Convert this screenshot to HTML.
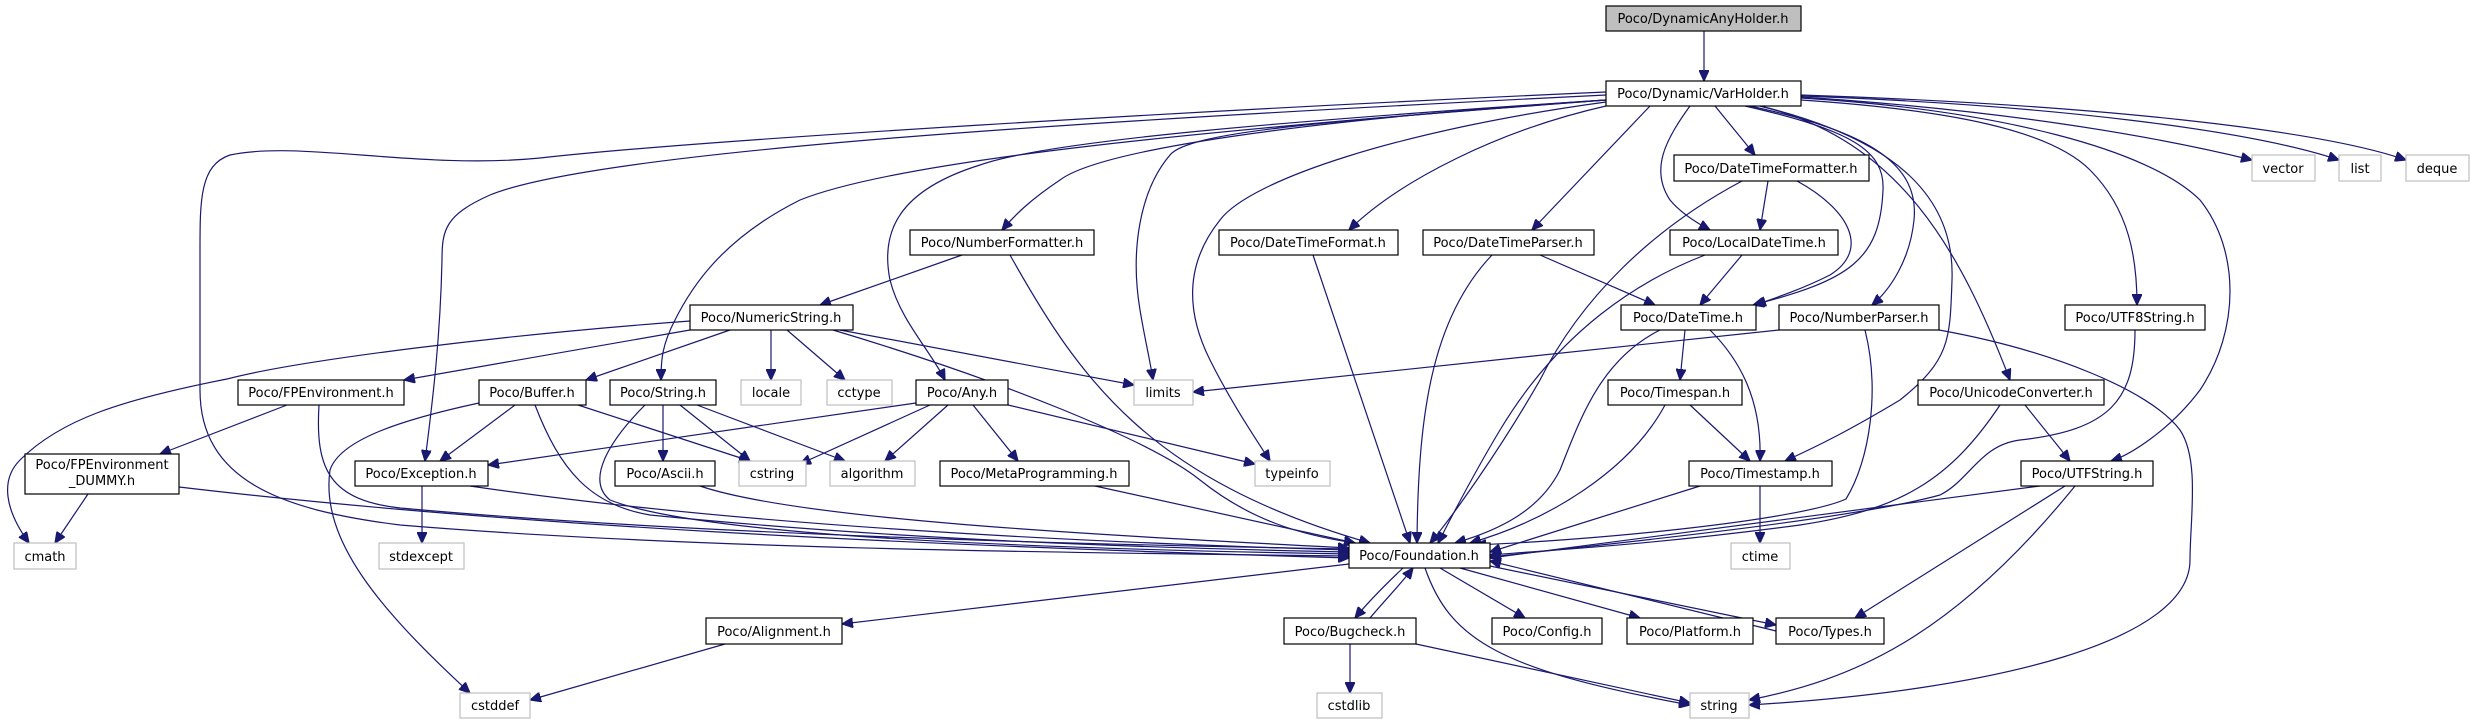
<!DOCTYPE html>
<html><head><meta charset="utf-8"><style>
html,body{margin:0;padding:0;background:#fff;}
svg{display:block}
text{font-family:"DejaVu Sans","Liberation Sans",sans-serif;font-size:13px;fill:#000;text-anchor:middle}
.n{fill:#fff;stroke:#000;stroke-width:1.2}
.g{fill:#fff;stroke:#bfbfbf;stroke-width:1.2}
.r{fill:#bfbfbf;stroke:#000;stroke-width:1.2}
path{fill:none;stroke:#191970;stroke-width:1.2;marker-end:url(#a)}
</style></head><body>
<svg width="2475" height="724" viewBox="0 0 2475 724" xmlns="http://www.w3.org/2000/svg">
<defs><marker id="a" markerUnits="userSpaceOnUse" markerWidth="12" markerHeight="10" refX="11" refY="5" orient="auto"><path d="M0,0 L11,5 L0,10 z" style="fill:#191970;stroke:#191970;marker-end:none"/></marker></defs>
<g>
<path d="M1704,31 L1704,81"/>
<path d="M1606,92 C1200,110 700,140 540,158 C420,170 300,140 230,155 C200,165 200,200 200,250 L200,390 C200,480 280,510 400,525 C700,550 1100,553 1349,556"/>
<path d="M1606,95 C1100,120 600,150 490,195 C445,215 442,230 442,260 C440,350 430,420 425,461"/>
<path d="M1606,100 C1200,130 900,160 800,200 C720,240 690,290 675,320 C662,345 661,360 661,380"/>
<path d="M1606,100 C1300,120 1050,140 980,165 C900,190 880,230 890,280 C900,320 930,350 945,380"/>
<path d="M1606,100 C1300,120 1100,150 1060,180 C1030,200 1015,215 1002,230"/>
<path d="M1606,100 C1350,120 1190,130 1170,155 C1140,190 1130,250 1140,310 C1145,340 1150,360 1153,380"/>
<path d="M1606,102 C1400,130 1250,180 1220,220 C1180,270 1190,320 1210,360 C1230,400 1250,430 1270,461"/>
<path d="M1606,106 C1500,130 1400,180 1349,230"/>
<path d="M1650,106 L1532,230"/>
<path d="M1715,106 L1755,155"/>
<path d="M1690,106 C1665,140 1650,170 1670,200 C1680,212 1695,222 1710,230"/>
<path d="M1745,106 C1850,130 1885,150 1883,190 C1880,260 1850,280 1753,305"/>
<path d="M1797,181 C1850,210 1870,250 1830,275 C1800,290 1775,298 1755,305"/>
<path d="M1768,181 L1760,230"/>
<path d="M1750,106 C1860,130 1920,160 1914,220 C1910,260 1890,290 1872,305"/>
<path d="M1760,106 C1900,140 1955,200 1952,280 C1950,340 1950,360 1900,400 C1850,430 1820,445 1785,461"/>
<path d="M1760,106 C1900,140 1960,250 2010,380"/>
<path d="M1801,100 C1950,110 2050,130 2090,170 C2130,210 2137,260 2137,305"/>
<path d="M1801,98 C2000,110 2150,150 2200,200 C2240,250 2240,330 2200,390 C2170,430 2130,455 2111,461"/>
<path d="M1801,97 C2000,110 2150,135 2252,160"/>
<path d="M1801,96 C2050,105 2250,130 2339,160"/>
<path d="M1801,95 C2100,105 2320,130 2406,160"/>
<path d="M962,255 L820,305"/>
<path d="M1010,255 C1080,380 1150,480 1370,543"/>
<path d="M1313,255 L1410,543"/>
<path d="M1492,255 C1430,320 1418,420 1417,543"/>
<path d="M1540,255 L1655,305"/>
<path d="M1742,255 L1700,305"/>
<path d="M1705,255 C1640,280 1560,330 1500,430 C1470,480 1450,520 1438,543"/>
<path d="M1742,181 C1650,230 1580,300 1540,380 C1500,450 1450,520 1430,543"/>
<path d="M1685,330 L1680,380"/>
<path d="M1710,330 C1740,360 1762,400 1760,461"/>
<path d="M1660,330 C1600,360 1580,420 1560,470 C1540,510 1500,530 1455,543"/>
<path d="M1865,330 C1880,390 1870,460 1846,499 C1800,520 1600,540 1475,545"/>
<path d="M1779,330 L1193,392"/>
<path d="M1939,330 C2050,350 2150,390 2180,430 C2200,460 2190,520 2190,560 C2190,640 2000,690 1749,705"/>
<path d="M1690,405 L1750,461"/>
<path d="M1665,405 C1630,470 1550,520 1470,543"/>
<path d="M1760,486 L1760,543"/>
<path d="M1700,486 L1490,552"/>
<path d="M2000,405 C1950,480 1900,510 1800,525 C1650,545 1550,550 1490,555"/>
<path d="M2025,405 L2070,461"/>
<path d="M2135,330 C2135,400 2110,430 2020,440 C1980,445 1970,480 1940,495 C1850,520 1600,545 1490,557"/>
<path d="M2040,486 L1490,558"/>
<path d="M2065,486 L1855,618"/>
<path d="M2075,486 C1950,640 1850,680 1749,700"/>
<path d="M1490,566 L1776,625"/>
<path d="M1776,631 L1490,561"/>
<path d="M1460,568 L1640,618"/>
<path d="M1440,568 L1525,618"/>
<path d="M1403,568 C1385,585 1370,600 1355,618"/>
<path d="M1370,618 C1385,600 1400,585 1413,568"/>
<path d="M1425,568 C1450,640 1500,670 1690,705"/>
<path d="M1416,644 L1690,703"/>
<path d="M1350,644 L1350,693"/>
<path d="M1349,564 L842,624"/>
<path d="M725,644 L530,700"/>
<path d="M690,321 C500,335 300,360 227,379 C120,400 60,420 20,460 C0,480 5,510 29,543"/>
<path d="M690,330 L404,380"/>
<path d="M730,330 L586,380"/>
<path d="M771,330 L771,380"/>
<path d="M787,330 L845,380"/>
<path d="M840,330 L1134,385"/>
<path d="M833,330 C1000,380 1150,440 1200,480 C1250,520 1300,535 1355,543"/>
<path d="M287,405 L160,454"/>
<path d="M319,405 C315,470 330,500 400,508 C700,535 1100,545 1349,549"/>
<path d="M88,494 L55,543"/>
<path d="M179,487 C500,525 900,545 1349,558"/>
<path d="M515,405 L440,461"/>
<path d="M578,405 L750,461"/>
<path d="M535,405 C560,470 590,505 650,515 C900,540 1150,548 1349,552"/>
<path d="M479,403 C400,420 340,440 330,470 C320,540 380,610 470,693"/>
<path d="M663,405 L663,461"/>
<path d="M680,405 L750,461"/>
<path d="M697,405 L845,461"/>
<path d="M645,405 C610,440 585,480 610,500 C700,535 1000,548 1349,554"/>
<path d="M422,486 L422,543"/>
<path d="M470,486 C700,520 1000,540 1349,550"/>
<path d="M700,486 C800,520 1100,535 1349,548"/>
<path d="M916,403 L488,465"/>
<path d="M930,405 L800,464"/>
<path d="M948,405 L885,461"/>
<path d="M973,405 L1018,461"/>
<path d="M1008,405 L1255,464"/>
<path d="M1095,486 L1355,543"/>
</g>
<g>
<rect class="r" x="1606" y="6" width="195" height="25"/><text x="1703" y="23">Poco/DynamicAnyHolder.h</text>
<rect class="n" x="1606" y="81" width="195" height="25"/><text x="1703" y="98">Poco/Dynamic/VarHolder.h</text>
<rect class="n" x="1674" y="155" width="195" height="26"/><text x="1771" y="173">Poco/DateTimeFormatter.h</text>
<rect class="g" x="2252" y="155" width="63" height="26"/><text x="2283" y="173">vector</text>
<rect class="g" x="2339" y="155" width="42" height="26"/><text x="2360" y="173">list</text>
<rect class="g" x="2406" y="155" width="63" height="26"/><text x="2437" y="173">deque</text>
<rect class="n" x="910" y="230" width="184" height="25"/><text x="1002" y="247">Poco/NumberFormatter.h</text>
<rect class="n" x="1219" y="230" width="179" height="25"/><text x="1308" y="247">Poco/DateTimeFormat.h</text>
<rect class="n" x="1423" y="230" width="171" height="25"/><text x="1508" y="247">Poco/DateTimeParser.h</text>
<rect class="n" x="1670" y="230" width="168" height="25"/><text x="1754" y="247">Poco/LocalDateTime.h</text>
<rect class="n" x="690" y="305" width="163" height="25"/><text x="771" y="322">Poco/NumericString.h</text>
<rect class="n" x="1621" y="305" width="135" height="25"/><text x="1688" y="322">Poco/DateTime.h</text>
<rect class="n" x="1779" y="305" width="160" height="25"/><text x="1859" y="322">Poco/NumberParser.h</text>
<rect class="n" x="2065" y="305" width="140" height="25"/><text x="2135" y="322">Poco/UTF8String.h</text>
<rect class="n" x="238" y="380" width="166" height="25"/><text x="321" y="397">Poco/FPEnvironment.h</text>
<rect class="n" x="479" y="380" width="107" height="25"/><text x="532" y="397">Poco/Buffer.h</text>
<rect class="n" x="610" y="380" width="106" height="25"/><text x="663" y="397">Poco/String.h</text>
<rect class="g" x="741" y="380" width="60" height="25"/><text x="771" y="397">locale</text>
<rect class="g" x="827" y="380" width="65" height="25"/><text x="859" y="397">cctype</text>
<rect class="n" x="916" y="380" width="92" height="25"/><text x="962" y="397">Poco/Any.h</text>
<rect class="g" x="1134" y="380" width="59" height="25"/><text x="1163" y="397">limits</text>
<rect class="n" x="1608" y="380" width="134" height="25"/><text x="1675" y="397">Poco/Timespan.h</text>
<rect class="n" x="1918" y="380" width="186" height="25"/><text x="2011" y="397">Poco/UnicodeConverter.h</text>
<rect class="n" x="25" y="454" width="154" height="40"/><text x="102" y="469">Poco/FPEnvironment</text><text x="102" y="485">_DUMMY.h</text>
<rect class="n" x="355" y="461" width="133" height="25"/><text x="421" y="478">Poco/Exception.h</text>
<rect class="n" x="615" y="461" width="100" height="25"/><text x="665" y="478">Poco/Ascii.h</text>
<rect class="g" x="739" y="461" width="67" height="25"/><text x="772" y="478">cstring</text>
<rect class="g" x="830" y="461" width="85" height="25"/><text x="872" y="478">algorithm</text>
<rect class="n" x="940" y="461" width="189" height="25"/><text x="1034" y="478">Poco/MetaProgramming.h</text>
<rect class="g" x="1255" y="461" width="75" height="25"/><text x="1292" y="478">typeinfo</text>
<rect class="n" x="1689" y="461" width="143" height="25"/><text x="1760" y="478">Poco/Timestamp.h</text>
<rect class="n" x="2021" y="461" width="132" height="25"/><text x="2087" y="478">Poco/UTFString.h</text>
<rect class="g" x="14" y="543" width="62" height="26"/><text x="45" y="561">cmath</text>
<rect class="g" x="379" y="543" width="85" height="26"/><text x="421" y="561">stdexcept</text>
<rect class="n" x="1349" y="543" width="141" height="25"/><text x="1419" y="560">Poco/Foundation.h</text>
<rect class="g" x="1731" y="543" width="59" height="26"/><text x="1760" y="561">ctime</text>
<rect class="n" x="706" y="618" width="136" height="26"/><text x="774" y="636">Poco/Alignment.h</text>
<rect class="n" x="1284" y="618" width="132" height="26"/><text x="1350" y="636">Poco/Bugcheck.h</text>
<rect class="n" x="1492" y="618" width="110" height="26"/><text x="1547" y="636">Poco/Config.h</text>
<rect class="n" x="1627" y="618" width="126" height="26"/><text x="1690" y="636">Poco/Platform.h</text>
<rect class="n" x="1776" y="618" width="108" height="26"/><text x="1830" y="636">Poco/Types.h</text>
<rect class="g" x="460" y="693" width="70" height="25"/><text x="495" y="710">cstddef</text>
<rect class="g" x="1317" y="693" width="65" height="25"/><text x="1349" y="710">cstdlib</text>
<rect class="g" x="1690" y="693" width="59" height="25"/><text x="1719" y="710">string</text>
</g>
</svg>
</body></html>
